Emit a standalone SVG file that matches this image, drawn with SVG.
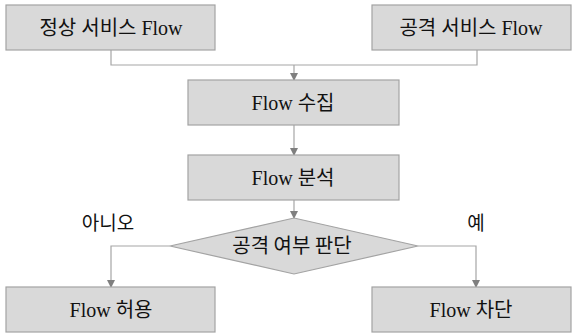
<svg xmlns="http://www.w3.org/2000/svg" width="577" height="335" viewBox="0 0 577 335">
<style>
.box{fill:#d9d9d9;stroke:#a3a3a3;stroke-width:1.2}
.lbl{font-family:"Liberation Serif","Noto Sans CJK KR",serif;font-size:20px;fill:#111111;text-anchor:middle}
.sans{font-family:"Noto Sans CJK KR","Noto Sans",sans-serif;font-size:20px;fill:#111111;text-anchor:middle}
.con{fill:none;stroke:#a6a6a6;stroke-width:1.2}
</style>
<defs>
<marker id="ah" markerWidth="8" markerHeight="8" refX="7" refY="4" orient="auto" markerUnits="userSpaceOnUse">
<path d="M0,0 L8,4 L0,8 Z" fill="#7f7f7f"/>
</marker>
</defs>
<rect width="577" height="335" fill="#ffffff"/>
<g id="connectors">
<polyline class="con" points="111,50 111,65 477,65 477,50"/>
<line class="con" x1="294" y1="65" x2="294" y2="80" marker-end="url(#ah)"/>
<line class="con" x1="294" y1="125" x2="294" y2="155" marker-end="url(#ah)"/>
<line class="con" x1="294" y1="200" x2="294" y2="218" marker-end="url(#ah)"/>
<polyline class="con" points="170,246 111,246 111,287" marker-end="url(#ah)"/>
<polyline class="con" points="418,246 476,246 476,287" marker-end="url(#ah)"/>
</g>
<g id="normal">
<rect class="box" x="6" y="5" width="209" height="45"/>
<text class="lbl" x="111" y="35">정상 서비스 Flow</text>
</g>
<g id="attack">
<rect class="box" x="372" y="5" width="199" height="45"/>
<text class="lbl" x="471" y="35">공격 서비스 Flow</text>
</g>
<g id="collect">
<rect class="box" x="188" y="80" width="211" height="45"/>
<text class="lbl" x="293" y="110">Flow 수집</text>
</g>
<g id="analyze">
<rect class="box" x="188" y="155" width="211" height="45"/>
<text class="lbl" x="293" y="185">Flow 분석</text>
</g>
<g id="decide">
<polygon class="box" points="170,246 294,218 418,246 294,274"/>
<text class="sans" x="292" y="253">공격 여부 판단</text>
</g>
<g id="allow">
<rect class="box" x="6" y="287" width="209" height="45"/>
<text class="lbl" x="111" y="317">Flow 허용</text>
</g>
<g id="block">
<rect class="box" x="372" y="287" width="199" height="45"/>
<text class="lbl" x="471" y="317">Flow 차단</text>
</g>
<g id="labels">
<text class="sans" x="108" y="230" style="font-size:19px">아니오</text>
<text class="sans" x="476" y="230" style="font-size:19px">예</text>
</g>
</svg>
